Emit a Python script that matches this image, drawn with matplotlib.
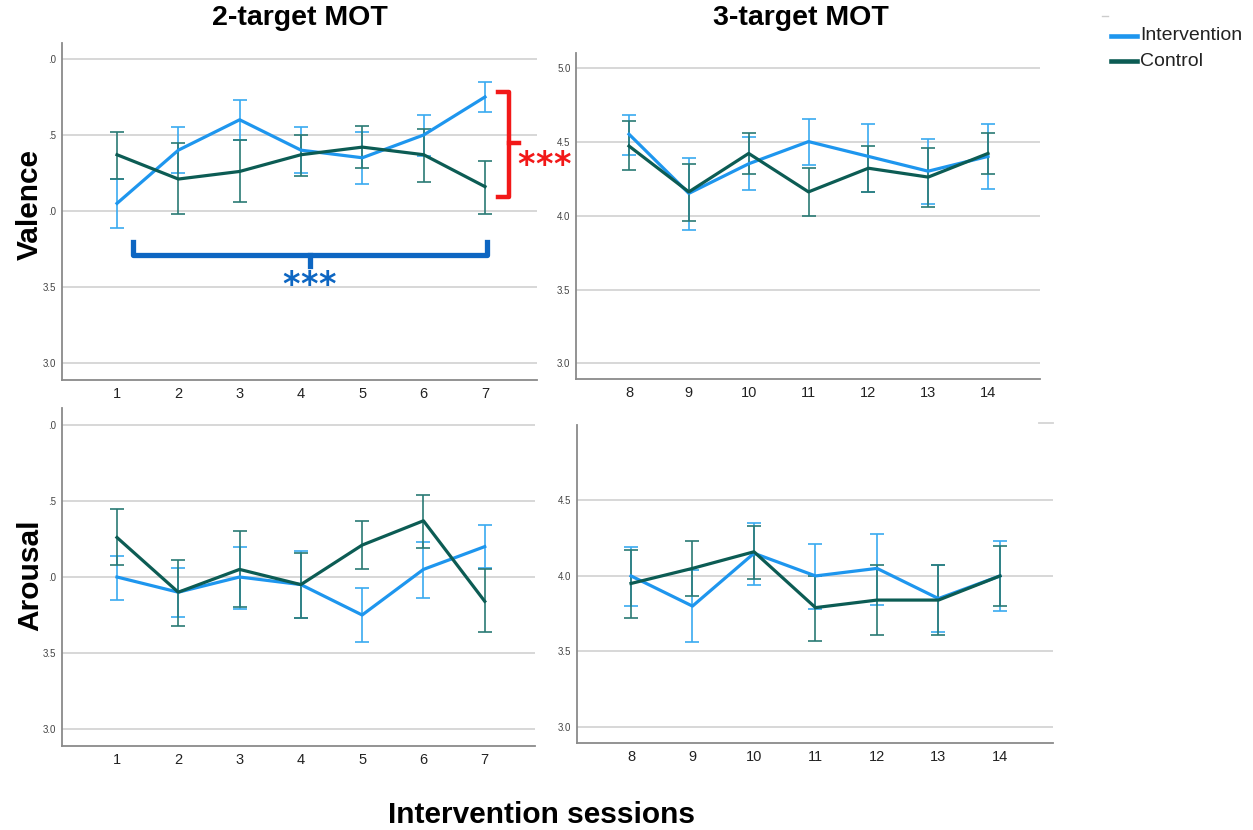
import matplotlib
matplotlib.use("Agg")
import matplotlib.pyplot as plt
from matplotlib.lines import Line2D
from matplotlib.transforms import offset_copy

# ---------------- data ----------------
sessions_2 = [1, 2, 3, 4, 5, 6, 7]
sessions_3 = [8, 9, 10, 11, 12, 13, 14]

# Valence, 2-target MOT
val2_int_mean = [4.05, 4.40, 4.60, 4.40, 4.35, 4.50, 4.75]
val2_int_lo = [3.89, 4.25, 4.47, 4.25, 4.18, 4.36, 4.65]
val2_int_hi = [4.21, 4.55, 4.73, 4.55, 4.52, 4.63, 4.85]
val2_ctl_mean = [4.37, 4.21, 4.26, 4.37, 4.42, 4.37, 4.16]
val2_ctl_lo = [4.21, 3.98, 4.06, 4.23, 4.28, 4.19, 3.98]
val2_ctl_hi = [4.52, 4.45, 4.47, 4.50, 4.56, 4.54, 4.33]

# Valence, 3-target MOT
val3_int_mean = [4.55, 4.15, 4.35, 4.50, 4.40, 4.30, 4.40]
val3_int_lo = [4.41, 3.90, 4.17, 4.34, 4.16, 4.08, 4.18]
val3_int_hi = [4.68, 4.39, 4.53, 4.65, 4.62, 4.52, 4.62]
val3_ctl_mean = [4.47, 4.16, 4.42, 4.16, 4.32, 4.26, 4.42]
val3_ctl_lo = [4.31, 3.96, 4.28, 4.00, 4.16, 4.06, 4.28]
val3_ctl_hi = [4.64, 4.35, 4.56, 4.32, 4.47, 4.46, 4.56]

# Arousal, 2-target MOT
aro2_int_mean = [4.00, 3.90, 4.00, 3.95, 3.75, 4.05, 4.20]
aro2_int_lo = [3.85, 3.74, 3.79, 3.73, 3.57, 3.86, 4.06]
aro2_int_hi = [4.14, 4.06, 4.20, 4.17, 3.93, 4.23, 4.34]
aro2_ctl_mean = [4.26, 3.90, 4.05, 3.95, 4.21, 4.37, 3.84]
aro2_ctl_lo = [4.08, 3.68, 3.80, 3.73, 4.05, 4.19, 3.64]
aro2_ctl_hi = [4.45, 4.11, 4.30, 4.16, 4.37, 4.54, 4.05]

# Arousal, 3-target MOT
aro3_int_mean = [4.00, 3.80, 4.15, 4.00, 4.05, 3.85, 4.00]
aro3_int_lo = [3.80, 3.56, 3.94, 3.78, 3.81, 3.63, 3.77]
aro3_int_hi = [4.19, 4.04, 4.35, 4.21, 4.28, 4.07, 4.23]
aro3_ctl_mean = [3.95, 4.05, 4.16, 3.79, 3.84, 3.84, 4.00]
aro3_ctl_lo = [3.72, 3.87, 3.98, 3.57, 3.61, 3.61, 3.80]
aro3_ctl_hi = [4.17, 4.23, 4.33, 4.00, 4.07, 4.07, 4.20]

ytick_vals = [3.0, 3.5, 4.0, 4.5, 5.0]
ytick_left = ["3.0", "3.5", ".0", ".5", ".0"]
ytick_right = ["3.0", "3.5", "4.0", "4.5", "5.0"]

series_labels = ["Intervention", "Control"]

# ---------------- style ----------------
W, H = 1253, 830
INT_LINE = "#1e96ee"
INT_ERR = "#3aaaf0"
CTL_LINE = "#0c5c54"
CTL_ERR = "#2a7a74"
GRID = "#d4d4d4"
SPINE = "#8a8a8a"
FONT = "Liberation Sans"

plt.rcParams["font.family"] = [FONT, "DejaVu Sans"]

fig = plt.figure(figsize=(W / 100, H / 100), dpi=100)


def px_axes(left, right, top, bottom):
    return fig.add_axes([left / W, 1 - bottom / H, (right - left) / W, (bottom - top) / H])


def style(ax, xt, ylabels, xlim, ylim):
    ax.set_xlim(*xlim)
    ax.set_ylim(*ylim)
    for s in ["top", "right"]:
        ax.spines[s].set_visible(False)
    for s in ["left", "bottom"]:
        ax.spines[s].set_color(SPINE)
        ax.spines[s].set_linewidth(1.3)
    ax.set_yticks(ytick_vals)
    ax.set_yticklabels(ylabels)
    ax.set_xticks(xt)
    ax.set_xticklabels([str(v) for v in xt])
    ax.tick_params(axis="x", length=0, pad=5, labelsize=10.5, labelcolor="#222222")
    ax.tick_params(axis="y", length=0, pad=4, labelsize=7, labelcolor="#444444")
    ax.yaxis.grid(True, color=GRID, linewidth=1.3)
    ax.set_axisbelow(True)


def draw(ax, x, im, il, ih, cm, cl, ch):
    for m, lo, hi, ec, z in [(im, il, ih, INT_ERR, 3), (cm, cl, ch, CTL_ERR, 4)]:
        yerr = [[a - b for a, b in zip(m, lo)], [b - a for a, b in zip(m, hi)]]
        ax.errorbar(x, m, yerr=yerr, fmt="none", ecolor=ec, elinewidth=1.2,
                    capsize=5, capthick=1.2, zorder=z)
    ax.plot(x, im, color=INT_LINE, linewidth=2.3, zorder=5, label=series_labels[0])
    ax.plot(x, cm, color=CTL_LINE, linewidth=2.3, zorder=6, label=series_labels[1])


ax_tl = px_axes(62, 537, 43, 380)
style(ax_tl, sessions_2, ytick_left, (0.103, 7.848), (2.888, 5.105))
draw(ax_tl, sessions_2, val2_int_mean, val2_int_lo, val2_int_hi,
     val2_ctl_mean, val2_ctl_lo, val2_ctl_hi)

ax_tr = px_axes(576, 1040, 53, 379)
style(ax_tr, sessions_3, ytick_right, (7.114, 14.869), (2.895, 5.099))
draw(ax_tr, sessions_3, val3_int_mean, val3_int_lo, val3_int_hi,
     val3_ctl_mean, val3_ctl_lo, val3_ctl_hi)

ax_bl = px_axes(62, 535, 408, 746)
style(ax_bl, sessions_2, ytick_left, (0.103, 7.82), (2.888, 5.112))
draw(ax_bl, sessions_2, aro2_int_mean, aro2_int_lo, aro2_int_hi,
     aro2_ctl_mean, aro2_ctl_lo, aro2_ctl_hi)

ax_br = px_axes(577, 1053, 425, 743)
style(ax_br, sessions_3, ytick_right, (7.122, 14.862), (2.893, 4.987))
ax_br.set_yticks(ytick_vals[:-1])
ax_br.set_yticklabels(ytick_right[:-1])
draw(ax_br, sessions_3, aro3_int_mean, aro3_int_lo, aro3_int_hi,
     aro3_ctl_mean, aro3_ctl_lo, aro3_ctl_hi)
ax_br.plot([0.97, 1.0], [1.005, 1.005], transform=ax_br.transAxes, color=GRID,
           linewidth=1.3, clip_on=False)

# ---------------- significance brackets ----------------
RED = "#f21818"
BLUE_B = "#0d66c2"
STAR_FONT = ["DejaVu Sans"]


def stars(ax, x, y, color):
    # three separate asterisks, spaced ~18 px apart
    for k in (-1, 0, 1):
        tr = offset_copy(ax.transData, fig=fig, x=k * 18, y=0, units="dots")
        ax.text(x, y, "*", color=color, fontsize=24, fontweight="bold",
                family=STAR_FONT, ha="center", va="baseline", transform=tr,
                clip_on=False, zorder=8)


ax_tl.plot([7.22, 7.39, 7.39, 7.22], [4.783, 4.783, 4.092, 4.092], color=RED,
           linewidth=3.2, clip_on=False, solid_joinstyle="round", zorder=7)
ax_tl.plot([7.39, 7.55], [4.447, 4.447], color=RED, linewidth=3.2, clip_on=False, zorder=7)
stars(ax_tl, 7.96, 4.235, RED)

ax_tl.plot([1.265, 1.265, 7.04, 7.04], [3.796, 3.71, 3.71, 3.796], color=BLUE_B,
           linewidth=3.8, clip_on=False, solid_joinstyle="round", zorder=7)
ax_tl.plot([4.145, 4.145], [3.71, 3.64], color=BLUE_B, linewidth=3.8, zorder=7)
stars(ax_tl, 4.13, 3.445, BLUE_B)

# ---------------- texts ----------------
fig.text(300 / W, 1 - 18 / H, "2-target MOT", ha="center", va="center",
         fontsize=20.5, fontweight="bold")
fig.text(801 / W, 1 - 18 / H, "3-target MOT", ha="center", va="center",
         fontsize=20.5, fontweight="bold")
fig.text(30 / W, 1 - 205 / H, "Valence", ha="center", va="center", rotation=90,
         fontsize=21.5, fontweight="bold")
fig.text(30 / W, 1 - 575 / H, "Arousal", ha="center", va="center", rotation=90,
         fontsize=21.5, fontweight="bold")
fig.text(541 / W, 1 - 815 / H, "Intervention sessions", ha="center", va="center",
         fontsize=21.5, fontweight="bold")

# legend (top right)
for lbl, col, ypx in [(series_labels[0], INT_LINE, 36), (series_labels[1], CTL_LINE, 61)]:
    fig.add_artist(Line2D([1111 / W, 1137 / W], [1 - ypx / H, 1 - ypx / H],
                          color=col, linewidth=3.3, transform=fig.transFigure))
    fig.text(1140 / W, 1 - ypx / H, lbl, ha="left", va="center", fontsize=14,
             color="#222222")
fig.add_artist(Line2D([1102 / W, 1108 / W], [1 - 16 / H, 1 - 16 / H], color="#cccccc",
                      linewidth=1, transform=fig.transFigure))

fig.savefig("out.png", dpi=100)
